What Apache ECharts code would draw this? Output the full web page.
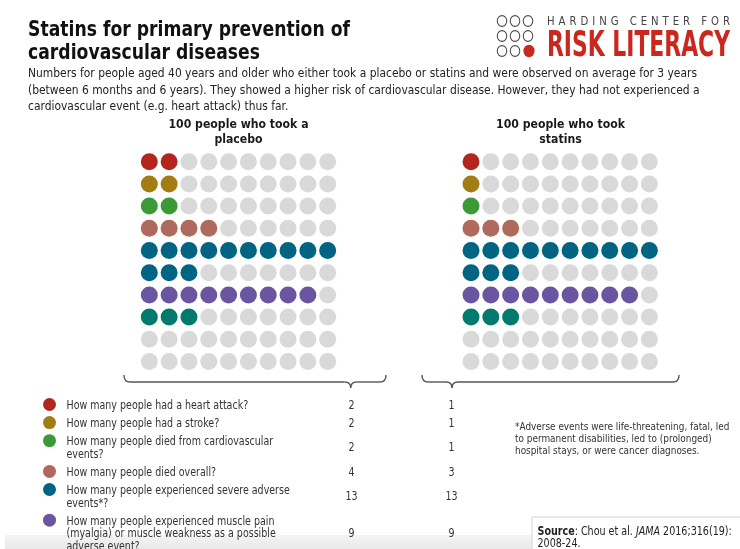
<!DOCTYPE html>
<html><head><meta charset="utf-8">
<script src="https://cdn.jsdelivr.net/npm/echarts@6/dist/echarts.min.js"></script>
<style>html,body{margin:0;padding:0;background:#fff}#chart{width:740px;height:549px}</style>
</head><body><div id="chart"></div>
<script>
// ---------------- DATA ----------------
const titleLines = ["Statins for primary prevention of", "cardiovascular diseases"];
const subtitleLines = [
  "Numbers for people aged 40 years and older who either took a placebo or statins and were observed on average for 3 years",
  "(between 6 months and 6 years). They showed a higher risk of cardiovascular disease. However, they had not experienced a",
  "cardiovascular event (e.g. heart attack) thus far."
];
const groupTitles = [["100 people who took a", "placebo"], ["100 people who took", "statins"]];
const questions = [
  ["How many people had a heart attack?"],
  ["How many people had a stroke?"],
  ["How many people died from cardiovascular", "events?"],
  ["How many people died overall?"],
  ["How many people experienced severe adverse", "events*?"],
  ["How many people experienced muscle pain", "(myalgia) or muscle weakness as a possible", "adverse event?"]
];
const placeboCounts = [2, 2, 2, 4, 13, 9, 3];
const statinCounts  = [1, 1, 1, 3, 13, 9, 3];
const footnoteLines = [
  "*Adverse events were life-threatening, fatal, led",
  "to permanent disabilities, led to (prolonged)",
  "hospital stays, or were cancer diagnoses."
];
const logoTop = "HARDING CENTER FOR";
const logoBottom = "RISK LITERACY";

// ---------------- STYLE ----------------
const dotColors = ['#b2261d', '#a27d13', '#3b9a36', '#b0695d', '#006482', '#6a55a1', '#007a6d'];
const emptyColor = '#d9d9d9';
const FAM = '"DejaVu Sans", Verdana, sans-serif';

const mctx = document.createElement('canvas').getContext('2d');
function measure(str, size, weight, family, style) {
  mctx.font = (style || 'normal') + ' ' + (weight || 'normal') + ' ' + size + 'px ' + family;
  return mctx.measureText(str).width;
}
function txt(str, x, y, o) {
  return {
    type: 'text', x: x, y: y, scaleX: o.sx || 1, z: 10,
    style: {
      text: str, fontSize: o.size, fontWeight: o.weight || 'normal', fontFamily: o.family || FAM,
      fontStyle: o.style || 'normal',
      fill: o.color || '#222', align: o.align || 'left', verticalAlign: 'middle'
    }
  };
}

function buildPoints(counts) {
  const pts = [];
  const used = {};
  let row = 0;
  counts.forEach((c, i) => {
    for (let k = 0; k < c; k++) {
      const col = k % 10, r = row + Math.floor(k / 10);
      used[col + ',' + r] = 1;
      pts.push({ value: [col, r], itemStyle: { color: dotColors[i], opacity: 1 } });
    }
    row += Math.ceil(c / 10);
  });
  for (let r = 0; r < 10; r++) for (let c = 0; c < 10; c++) {
    if (!used[c + ',' + r]) pts.push({ value: [c, r], itemStyle: { color: emptyColor, opacity: 1 } });
  }
  return pts;
}

const graphics = [];
// bottom grey band & source box
graphics.push({ type: 'rect', z: 1, shape: { x: 5, y: 535, width: 735, height: 14 },
  style: { fill: new echarts.graphic.LinearGradient(0, 0, 0, 1, [{ offset: 0, color: '#f4f4f4' }, { offset: 1, color: '#e9e9e9' }]) } });
graphics.push({ type: 'rect', z: 2, shape: { x: 532, y: 517, width: 212, height: 40 },
  style: { fill: '#fff', stroke: '#d4d4d4', lineWidth: 1 } });

// title
const tSize = 21.5;
const tScale = 322 / measure(titleLines[0], tSize, 'bold', FAM);
titleLines.forEach((l, i) => graphics.push(txt(l, 28, 30 + i * 23.5, { size: tSize, weight: 'bold', sx: tScale, color: '#111' })));

// subtitle
const sSize = 13;
const sScale = 669 / measure(subtitleLines[0], sSize, 'normal', FAM);
subtitleLines.forEach((l, i) => graphics.push(txt(l, 28, 74 + i * 16.5, { size: sSize, sx: sScale, color: '#222' })));

// group titles
const gSize = 13;
const gScale = 140 / measure(groupTitles[0][0], gSize, 'bold', FAM);
const gCenters = [238.5, 560.5];
groupTitles.forEach((lines, gi) => lines.forEach((l, i) =>
  graphics.push(txt(l, gCenters[gi], 125 + i * 15, { size: gSize, weight: 'bold', sx: gScale, align: 'center', color: '#1a1a1a' }))));

// logo
const logoCols = [502, 515, 528], logoRows = [21, 36, 51];
logoRows.forEach((ry, ri) => logoCols.forEach((cx, ci) => {
  if (ri === 2 && ci === 2) {
    graphics.push({ type: 'circle', x: cx + 1, y: ry, scaleX: 0.9, z: 10, shape: { cx: 0, cy: 0, r: 6.2 }, style: { fill: '#c8281e' } });
  } else {
    graphics.push({ type: 'circle', x: cx, y: ry, scaleX: 0.88, z: 10, shape: { cx: 0, cy: 0, r: 5.4 }, style: { fill: 'none', stroke: '#4a4a4a', lineWidth: 1.2 } });
  }
}));
(function () {
  const size = 12.5, fam = '"DejaVu Sans Condensed", "DejaVu Sans", sans-serif';
  const chars = logoTop.split('');
  const ws = chars.map(ch => measure(ch, size, 'normal', fam) * 0.9);
  const total = ws.reduce((a, b) => a + b, 0);
  const gap = (183 - total) / (chars.length - 1);
  let x = 547;
  chars.forEach((ch, i) => {
    if (ch !== ' ') graphics.push(txt(ch, x, 21.5, { size: size, family: fam, sx: 0.9, color: '#444' }));
    x += ws[i] + gap;
  });
  const bSize = 36;
  const bScale = 183 / measure(logoBottom, bSize, 'bold', fam);
  graphics.push(txt(logoBottom, 547, 47, { size: bSize, weight: 'bold', family: fam, sx: bScale, color: '#c8281e' }));
})();

// braces (made of lines and quadratic curves)
function brace(x0, x1, xt, yTop, yLine, yTip) {
  const st = { fill: 'none', stroke: '#555', lineWidth: 1.4 };
  const segs = [
    { type: 'bezierCurve', shape: { x1: x0, y1: yTop, x2: x0 + 6, y2: yLine, cpx1: x0, cpy1: yLine } },
    { type: 'line', shape: { x1: x0 + 6, y1: yLine, x2: xt - 6, y2: yLine } },
    { type: 'bezierCurve', shape: { x1: xt - 6, y1: yLine, x2: xt, y2: yTip, cpx1: xt, cpy1: yLine } },
    { type: 'bezierCurve', shape: { x1: xt, y1: yTip, x2: xt + 6, y2: yLine, cpx1: xt, cpy1: yLine } },
    { type: 'line', shape: { x1: xt + 6, y1: yLine, x2: x1 - 6, y2: yLine } },
    { type: 'bezierCurve', shape: { x1: x1 - 6, y1: yLine, x2: x1, y2: yTop, cpx1: x1, cpy1: yLine } }
  ];
  segs.forEach(s => { s.z = 10; s.style = st; graphics.push(s); });
}
brace(124, 386, 350.7, 375, 382, 388);
brace(422, 679, 452, 375, 382, 388);

// table
const qSize = 11.5;
const qScale = 181.7 / measure(questions[0][0], qSize, 'normal', FAM);
const lineH = 12.6;
let rowY = 406;
questions.forEach((lines, i) => {
  graphics.push({ type: 'circle', z: 10, shape: { cx: 49.5, cy: rowY - 1.5, r: 6.5 }, style: { fill: dotColors[i] } });
  lines.forEach((l, k) => graphics.push(txt(l, 66.5, rowY + k * lineH, { size: qSize, sx: qScale, color: '#333' })));
  const vy = rowY + (lines.length - 1) * lineH / 2;
  graphics.push(txt(String(placeboCounts[i]), 351.5, vy, { size: qSize, sx: qScale, align: 'center', color: '#333' }));
  graphics.push(txt(String(statinCounts[i]), 451.5, vy, { size: qSize, sx: qScale, align: 'center', color: '#333' }));
  rowY += lines.length * lineH + 5.5;
});

// footnote
const fSize = 11;
const fScale = 214.3 / measure(footnoteLines[0], fSize, 'normal', FAM);
footnoteLines.forEach((l, i) => graphics.push(txt(l, 515, 426.7 + i * 12.4, { size: fSize, sx: fScale, color: '#333' })));

// source (rich text)
(function () {
  const size = 11.5;
  const parts = [['Source', 'bold', 'normal'], [': Chou et al. ', 'normal', 'normal'], ['JAMA', 'normal', 'italic'], [' 2016;316(19):', 'normal', 'normal']];
  const w = parts.reduce((a, p) => a + measure(p[0], size, p[1], FAM, p[2]), 0);
  const sc = 194.3 / w;
  graphics.push({ type: 'text', x: 537.5, y: 531.7, scaleX: sc, z: 10,
    style: { text: '{b|Source}: Chou et al. {i|JAMA} 2016;316(19):', fontSize: size, fontFamily: FAM, fill: '#222', align: 'left', verticalAlign: 'middle',
      rich: { b: { fontWeight: 'bold', fontSize: size, fontFamily: FAM, fill: '#222' }, i: { fontStyle: 'italic', fontSize: size, fontFamily: FAM, fill: '#222' } } } });
  graphics.push(txt('2008-24.', 537.5, 544, { size: size, sx: sc, color: '#222' }));
})();

// ---------------- CHART ----------------
const chart = echarts.init(document.getElementById('chart'), null, { renderer: 'canvas' });
const axX = (gi) => ({ type: 'value', gridIndex: gi, min: -0.5, max: 9.5, show: false });
const axY = (gi) => ({ type: 'value', gridIndex: gi, min: -0.5, max: 9.5, inverse: true, show: false });
chart.setOption({
  backgroundColor: '#fff',
  animation: false,
  grid: [
    { left: 139.4, top: 150.6, width: 198.2, height: 222 },
    { left: 461.1, top: 150.6, width: 198.2, height: 222 }
  ],
  xAxis: [axX(0), axX(1)],
  yAxis: [axY(0), axY(1)],
  series: [
    { type: 'scatter', xAxisIndex: 0, yAxisIndex: 0, symbolSize: 17, itemStyle: { opacity: 1 }, data: buildPoints(placeboCounts), silent: true },
    { type: 'scatter', xAxisIndex: 1, yAxisIndex: 1, symbolSize: 17, itemStyle: { opacity: 1 }, data: buildPoints(statinCounts), silent: true }
  ],
  graphic: graphics
});
</script></body></html>
